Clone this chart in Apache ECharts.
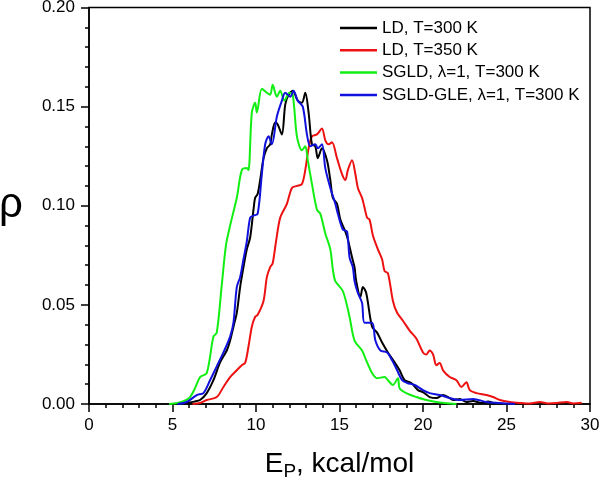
<!DOCTYPE html>
<html>
<head>
<meta charset="utf-8">
<script src="https://cdn.jsdelivr.net/npm/echarts@6/dist/echarts.min.js"></script>
<style>html,body{margin:0;padding:0;background:#fff}#c{width:600px;height:482px}</style>
</head>
<body>
<div id="c"></div>
<script>
// Series names
var seriesNames = ['LD, T=300 K', 'LD, T=350 K', 'SGLD, \u03bb=1, T=300 K', 'SGLD-GLE, \u03bb=1, T=300 K'];

// LD, T=300 K
var ld300E = [5.0,5.5,5.85,6.3,6.65,7.05,7.45,7.85,8.25,8.45,8.65,8.85,9.05,9.25,9.45,9.65,9.85,9.95,10.1,10.25,10.45,10.65,10.85,10.95,11.15,11.3,11.55,11.75,11.95,12.2,12.5,12.75,12.95,13.15,13.35,13.55,13.7,13.95,14.25,14.45,14.6,14.85,15.05,15.35,15.5,15.75,15.9,16.0,16.25,16.4,16.6,16.95,17.25,17.55,17.9,18.3,18.6,18.9,19.3,19.7,20.0,20.4,20.8,21.2,21.5,21.8,22.2,22.6,23.0,23.5,23.9,24.3];
var ld300R = [0,0.0003,0.0005,0.0012,0.002,0.0055,0.012,0.021,0.027,0.032,0.039,0.046,0.059,0.069,0.078,0.084,0.098,0.104,0.106,0.113,0.124,0.129,0.131,0.136,0.142,0.141,0.136,0.151,0.156,0.158,0.153,0.152,0.157,0.147,0.131,0.130,0.124,0.129,0.123,0.113,0.104,0.101,0.093,0.087,0.083,0.074,0.069,0.062,0.054,0.059,0.056,0.039,0.036,0.031,0.026,0.021,0.017,0.012,0.0106,0.007,0.006,0.0035,0.003,0.0045,0.0035,0.002,0.0025,0.001,0.0015,0.0005,0.0012,0];

// LD, T=350 K
var ld350E = [6.2,6.65,7.05,7.65,8.05,8.45,8.85,9.15,9.35,9.55,9.75,9.95,10.1,10.45,10.65,10.85,11.0,11.2,11.45,11.85,12.15,12.45,12.75,12.95,13.15,13.35,13.65,13.95,14.15,14.35,14.55,14.85,15.15,15.35,15.5,15.75,15.95,16.1,16.35,16.5,16.65,16.8,17.0,17.3,17.55,17.7,17.9,18.2,18.45,18.8,19.2,19.6,20.0,20.2,20.4,20.6,20.8,21.0,21.2,21.6,22.0,22.3,22.6,22.8,23.2,23.8,24.2,24.6,25.2,25.8,26.4,27.0,27.5,28.0,28.6,29.0,29.5];
var ld350R = [0,0.0005,0.002,0.0035,0.0086,0.0136,0.017,0.0196,0.0207,0.029,0.039,0.044,0.045,0.052,0.064,0.069,0.071,0.082,0.094,0.101,0.109,0.110,0.111,0.118,0.129,0.135,0.136,0.139,0.133,0.131,0.132,0.124,0.116,0.113,0.118,0.123,0.116,0.109,0.104,0.099,0.094,0.093,0.085,0.078,0.073,0.067,0.066,0.052,0.046,0.042,0.037,0.033,0.026,0.025,0.027,0.025,0.0196,0.0207,0.017,0.0136,0.012,0.0086,0.011,0.007,0.0055,0.0045,0.0035,0.002,0.001,0.0005,0.0002,0.001,0.0003,0.0005,0.001,0.0003,0.0006];

// SGLD, lambda=1, T=300 K
var sgldE = [4.8,5.3,5.7,6.05,6.35,6.65,7.05,7.45,7.65,7.95,8.2,8.45,8.85,9.15,9.45,9.55,9.75,9.95,10.05,10.35,10.65,10.85,11.0,11.25,11.45,11.7,12.0,12.2,12.45,12.75,12.95,13.1,13.35,13.65,13.85,14.15,14.45,14.6,14.75,15.2,15.6,15.9,16.35,16.6,16.95,17.25,17.7,17.9,18.2,18.5,18.6,19.0,19.6,20.2,20.8,21.3,22.0];
var sgldR = [0,0.0005,0.0015,0.0035,0.008,0.0136,0.0156,0.034,0.036,0.06,0.08,0.09,0.104,0.118,0.119,0.118,0.147,0.152,0.147,0.159,0.157,0.156,0.161,0.155,0.158,0.153,0.157,0.156,0.135,0.128,0.130,0.123,0.111,0.098,0.096,0.086,0.078,0.068,0.062,0.057,0.044,0.032,0.027,0.022,0.0156,0.013,0.0136,0.012,0.0096,0.013,0.008,0.0055,0.0035,0.002,0.001,0.0005,0];

// SGLD-GLE, lambda=1, T=300 K
var gleE = [5.3,5.85,6.45,6.85,7.25,7.65,8.05,8.45,8.65,8.85,9.05,9.25,9.45,9.65,9.85,10.1,10.35,10.55,10.75,10.95,11.25,11.55,11.75,12.05,12.25,12.5,12.8,13.05,13.25,13.55,13.7,13.95,14.15,14.45,14.75,14.9,15.2,15.45,15.6,15.8,15.9,16.1,16.35,16.5,16.95,17.15,17.45,17.85,18.15,18.45,18.75,19.05,19.5,20.0,20.4,21.0,21.6,22.2,23.0,23.8,24.6,25.5];
var gleR = [0,0.001,0.0045,0.0055,0.012,0.019,0.026,0.034,0.041,0.059,0.064,0.073,0.082,0.094,0.095,0.096,0.116,0.131,0.135,0.131,0.145,0.153,0.157,0.155,0.158,0.153,0.150,0.136,0.130,0.131,0.129,0.131,0.119,0.109,0.101,0.096,0.088,0.087,0.074,0.069,0.062,0.056,0.051,0.041,0.041,0.032,0.027,0.026,0.022,0.017,0.012,0.0106,0.0096,0.007,0.0055,0.0045,0.003,0.002,0.0025,0.001,0.0005,0];

// Axis ticks
var xTicks = [0,5,10,15,20,25,30];
var yTicks = [0.00,0.05,0.10,0.15,0.20];

function pairs(xs, ys){ return xs.map(function(x,i){ return [x, ys[i]]; }); }

var colors = ['#000000', '#ee1111', '#11ee11', '#1111dd'];
var xsAll = [ld300E, ld350E, sgldE, gleE];
var ysAll = [ld300R, ld350R, sgldR, gleR];

var font = "'Liberation Sans', Arial, sans-serif";
var chart = echarts.init(document.getElementById('c'), null, {renderer:'canvas'});
chart.setOption({
  animation: false,
  backgroundColor: '#fff',
  textStyle: {fontFamily: font},
  grid: {left: 89, right: 10, top: 7.5, bottom: 78, show: true, borderColor: '#000', borderWidth: 1.5,
         containLabel: false, outerBoundsMode: 'none'},
  legend: {
    orient: 'vertical', left: 335, top: 14.5,
    icon: 'rect', itemWidth: 37, itemHeight: 2.5, itemGap: 5.3,
    textStyle: {fontSize: 17, color: '#000', fontFamily: font},
    data: seriesNames
  },
  xAxis: {
    type: 'value', min: xTicks[0], max: xTicks[xTicks.length-1], interval: 5,
    axisLine: {lineStyle: {color: '#000', width: 1.5}},
    axisTick: {show: true, length: 8, lineStyle: {color: '#000', width: 1.5}},
    minorTick: {show: true, splitNumber: 5, length: 4, lineStyle: {color: '#000', width: 1.5}},
    splitLine: {show: false},
    axisLabel: {fontSize: 17, color: '#000', margin: 13, fontFamily: font},
    name: '{e|E}{s|P}{n|, kcal/mol}',
    nameLocation: 'middle', nameGap: 44,
    nameTextStyle: {
      rich: {
        e: {fontSize: 28, color: '#000', fontFamily: font},
        s: {fontSize: 19, color: '#000', fontFamily: font, padding: [14,0,0,0]},
        n: {fontSize: 28, color: '#000', fontFamily: font}
      }
    }
  },
  yAxis: {
    type: 'value', min: yTicks[0], max: yTicks[yTicks.length-1], interval: 0.05,
    axisLine: {lineStyle: {color: '#000', width: 1.5}},
    axisTick: {show: true, length: 8, lineStyle: {color: '#000', width: 1.5}},
    minorTick: {show: true, splitNumber: 5, length: 4, lineStyle: {color: '#000', width: 1.5}},
    splitLine: {show: false},
    axisLabel: {fontSize: 17, color: '#000', margin: 14, fontFamily: font, formatter: function(v){ return v.toFixed(2); }},
    name: '\u03c1', nameLocation: 'middle', nameRotate: 0, nameGap: 66,
    nameTextStyle: {fontSize: 42, color: '#000', fontFamily: font}
  },
  series: seriesNames.map(function(n, i){
    return {
      name: n, type: 'line', symbol: 'none', smooth: 0.3,
      data: pairs(xsAll[i], ysAll[i]),
      lineStyle: {color: colors[i], width: 2},
      itemStyle: {color: colors[i]},
      z: [2, 1, 3, 4][i]
    };
  })
});
</script>
</body>
</html>
